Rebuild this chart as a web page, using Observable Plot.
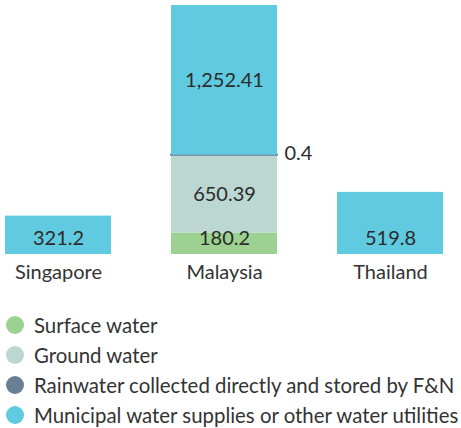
<!DOCTYPE html>
<html>
<head>
<meta charset="utf-8">
<script src="https://cdn.jsdelivr.net/npm/d3@7"></script>
<script src="https://cdn.jsdelivr.net/npm/@observablehq/plot@0.6"></script>
<style>
  body { margin: 0; background: #fff; font-family: Lato, sans-serif; color: #333; }
  #legend { position: relative; margin-top: 0; height: 138px; }
  .item { position: absolute; left: 0; display: flex; align-items: center; font-size: 20.4px; line-height: 24px; white-space: nowrap; }
  .sw { width: 18px; height: 18px; border-radius: 50%; display: inline-block; margin-left: 6px; margin-right: 10px; }
</style>
</head>
<body>
<div id="chart"></div>
<div id="legend"></div>
<script>
const countries = ["Singapore", "Malaysia", "Thailand"];
const series = ["Surface water", "Ground water", "Rainwater collected directly and stored by F&N", "Municipal water supplies or other water utilities"];
const colors = ["#9dd192", "#bcd6d2", "#687f95", "#60cae0"];
const surface = [0, 180.2, 0];
const ground = [0, 650.39, 0];
const rain = [0, 0.4, 0];
const municipal = [321.2, 1252.41, 519.8];
const labels = [["", "", "", "321.2"], ["180.2", "650.39", "0.4", "1,252.41"], ["", "", "", "519.8"]];

const cols = [surface, ground, rain, municipal];
const data = [];
countries.forEach((c, i) => {
  let first = true;
  series.forEach((s, j) => {
    if (cols[j][i] > 0) {
      data.push({country: c, series: s, value: cols[j][i], label: labels[i][j], base: first});
      first = false;
    }
  });
});
const isRain = d => d.series === series[2];

const stackOpts = {x: "country", y: "value", z: "series", order: series};
const txt = {fill: "#2b2b2b", fontSize: 20};

const chart = Plot.plot({
  width: 461,
  height: 290,
  marginLeft: 5,
  marginRight: 17,
  marginTop: 5,
  marginBottom: 36,
  style: {fontFamily: "Lato, sans-serif", fontSize: "20px", color: "#333", background: "#fff"},
  x: {domain: countries, paddingInner: 0.36, paddingOuter: 0, label: null, tickSize: 0, tickPadding: 10},
  y: {axis: null, domain: [0, 2083.4]},
  color: {domain: series, range: colors},
  marks: [
    Plot.barY(data, Plot.stackY({...stackOpts, fill: "series", stroke: "series", strokeWidth: d => isRain(d) ? 2 : 0})),
    // bottom segment labels sit a fixed distance above the baseline
    Plot.text(data, Plot.stackY1({...stackOpts, text: d => d.base ? d.label : null, ...txt, dy: -16})),
    // other segment labels are centered in their segment
    Plot.text(data, Plot.stackY({...stackOpts, text: d => (d.base || isRain(d)) ? null : d.label, ...txt})),
    // the thin rainwater segment is labelled to the right of the bar
    Plot.text(data, Plot.stackY({...stackOpts, text: d => isRain(d) ? d.label : null, ...txt, textAnchor: "start", dx: 60, dy: -2}))
  ]
});
document.getElementById("chart").appendChild(chart);

const legend = document.getElementById("legend");
series.forEach((s, j) => {
  const div = document.createElement("div");
  div.className = "item";
  div.style.top = (j * 30 + 23) + "px";
  const sw = document.createElement("span");
  sw.className = "sw";
  sw.style.background = colors[j];
  div.appendChild(sw);
  const t = document.createElement("span");
  t.textContent = s;
  div.appendChild(t);
  legend.appendChild(div);
});
</script>
</body>
</html>
